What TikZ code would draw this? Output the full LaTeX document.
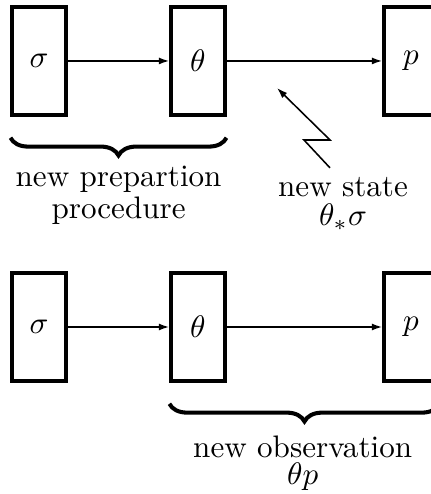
\documentclass[tikz,border=0pt]{standalone}
\usepackage{tikz}
\usetikzlibrary{calc,decorations.pathreplacing,arrows.meta}

\begin{document}
\begin{tikzpicture}
\tikzset{
  chanbox/.style={draw, line width=1pt, minimum width=0.61cm, minimum height=1.22cm, inner sep=0pt},
  flow/.style={line width=0.6pt, -{Latex[length=1.2mm,width=0.8mm]}},
  bracedown/.style={decorate, line width=1.3pt, decoration={brace,mirror,amplitude=0.2cm}}
}
\useasboundingbox (0,0) rectangle (4.87,5.582);

% Top row
\node[chanbox] (sigmaA) at (0.441,4.893) {$\sigma$};
\node[chanbox] (thetaA) at (2.237,4.893) {$\theta$};
\node[chanbox] (pA) at (4.644,4.893) {$p$};
\draw[flow] (sigmaA) -- (thetaA);
\draw[flow] (thetaA) -- (pA);

% Brace under sigma and theta
\coordinate (braceAl) at ($(sigmaA.south west)+(0,-0.24)$);
\coordinate (braceAr) at ($(thetaA.south east)+(0,-0.24)$);
\draw[bracedown] (braceAl) -- (braceAr);
\node[align=center] (prepLabel) at (1.34,3.37) {new prepartion\\[-1.7pt]procedure};

% New state, zigzag pointer
\node[align=center] (stateLabel) at (3.876,3.28) {new state\\[-2.4pt]$\theta_*\sigma$};
\coordinate (zigA) at (3.729,3.685);
\coordinate (zigB) at (3.435,4.0);
\coordinate (zigC) at (3.729,4.0);
\coordinate (zigTip) at (3.13,4.588);
\draw[line width=0.5pt, -{Latex[length=1.2mm,width=0.8mm]}] (zigA) -- (zigB) -- (zigC) -- (zigTip);

% Bottom row
\node[chanbox] (sigmaB) at (0.441,1.887) {$\sigma$};
\node[chanbox] (thetaB) at (2.237,1.887) {$\theta$};
\node[chanbox] (pB) at (4.644,1.887) {$p$};
\draw[flow] (sigmaB) -- (thetaB);
\draw[flow] (thetaB) -- (pB);

% Brace under theta and p
\coordinate (braceBl) at ($(thetaB.south west)+(0,-0.24)$);
\coordinate (braceBr) at ($(pB.south east)+(0,-0.24)$);
\draw[bracedown] (braceBl) -- (braceBr);
\node[align=center] (obsLabel) at (3.42,0.345) {new observation\\[-3.3pt]$\theta p$};

\end{tikzpicture}
\end{document}
